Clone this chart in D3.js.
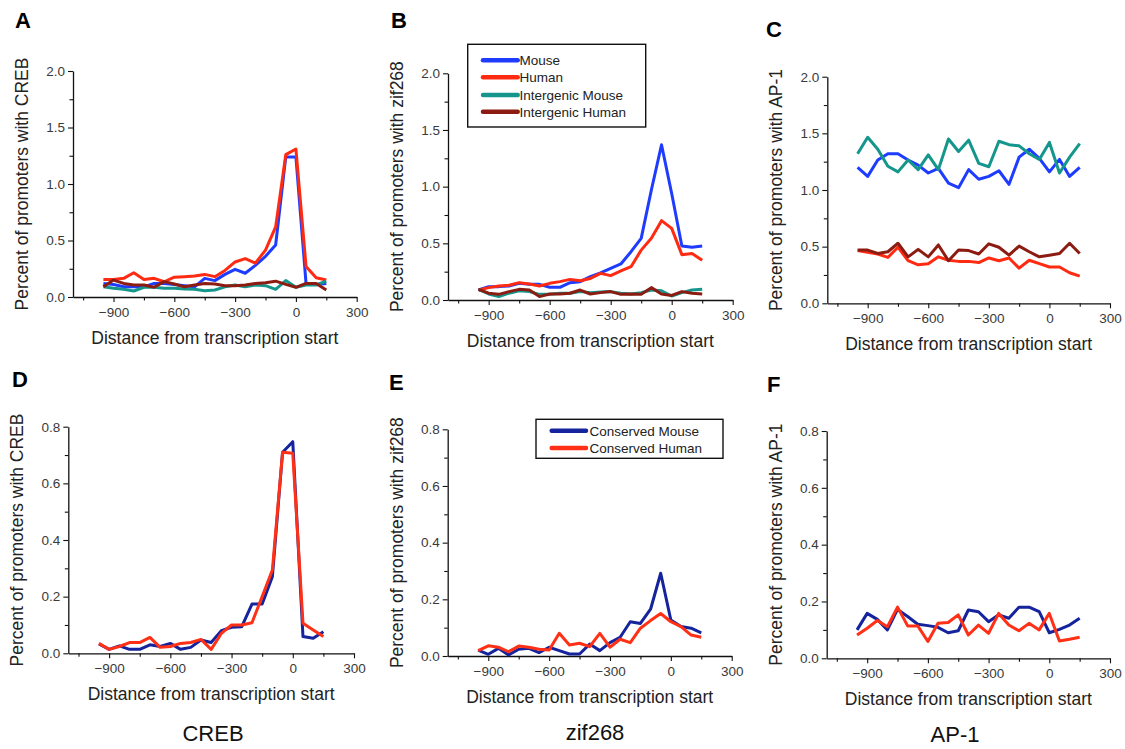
<!DOCTYPE html>
<html>
<head>
<meta charset="utf-8">
<script src="https://cdn.jsdelivr.net/npm/d3@7"></script>
<style>
  html, body { margin: 0; padding: 0; background: #fff; }
  svg { display: block; font-family: "Liberation Sans", Arial, sans-serif; }
</style>
</head>
<body>
<svg id="chart" width="1125" height="749"></svg>
<script>
// ---- Data ----
const positions = [-950,-900,-850,-800,-750,-700,-650,-600,-550,-500,-450,-400,-350,-300,-250,-200,-150,-100,-50,0,50,100,150];

const xTicksMajor = [-900, -600, -300, 0, 300];
const xTicksMinor = [-1050, -750, -450, -150, 150];
const yTicksTopMajor = [0, 0.5, 1.0, 1.5, 2.0];
const yTicksTopMinor = [0.25, 0.75, 1.25, 1.75];
const yTicksBotMajor = [0, 0.2, 0.4, 0.6, 0.8];
const yTicksBotMinor = [0.1, 0.3, 0.5, 0.7];

const seriesNamesTop = ["Mouse", "Human", "Intergenic Mouse", "Intergenic Human"];
const seriesNamesBot = ["Conserved Mouse", "Conserved Human"];
const factorNames = ["CREB", "zif268", "AP-1"];

// Panel A: CREB
const crebMouse    = [0.12,0.11,0.09,0.09,0.09,0.12,0.12,0.11,0.10,0.09,0.165,0.145,0.20,0.245,0.21,0.28,0.36,0.46,1.24,1.24,0.12,0.11,0.12];
const crebHuman    = [0.155,0.155,0.165,0.215,0.155,0.165,0.135,0.175,0.18,0.185,0.20,0.18,0.235,0.31,0.34,0.30,0.415,0.62,1.26,1.31,0.27,0.17,0.15];
const crebIntMouse = [0.09,0.077,0.068,0.053,0.086,0.086,0.077,0.077,0.07,0.068,0.056,0.062,0.09,0.106,0.09,0.106,0.10,0.068,0.145,0.086,0.106,0.106,0.14];
const crebIntHuman = [0.09,0.15,0.12,0.106,0.106,0.086,0.136,0.115,0.09,0.106,0.12,0.115,0.10,0.10,0.106,0.12,0.127,0.14,0.112,0.086,0.12,0.12,0.062];

// Panel B: zif268
const zifMouse    = [0.088,0.118,0.118,0.124,0.147,0.138,0.138,0.112,0.112,0.153,0.162,0.206,0.24,0.28,0.318,0.426,0.544,0.97,1.37,0.94,0.476,0.465,0.476];
const zifHuman    = [0.088,0.109,0.124,0.13,0.153,0.141,0.124,0.147,0.162,0.182,0.17,0.19,0.235,0.215,0.256,0.294,0.44,0.544,0.70,0.632,0.40,0.41,0.35];
const zifIntMouse = [0.094,0.053,0.03,0.06,0.082,0.074,0.05,0.05,0.06,0.06,0.074,0.065,0.07,0.074,0.06,0.053,0.065,0.088,0.082,0.035,0.065,0.088,0.094];
const zifIntHuman = [0.094,0.06,0.05,0.074,0.094,0.088,0.03,0.053,0.053,0.06,0.088,0.053,0.065,0.074,0.05,0.053,0.05,0.109,0.053,0.04,0.074,0.06,0.053];

// Panel C: AP-1
const ap1Mouse    = [1.2,1.12,1.265,1.32,1.32,1.265,1.22,1.15,1.19,1.06,1.02,1.18,1.095,1.12,1.17,1.05,1.29,1.36,1.28,1.16,1.27,1.12,1.2];
const ap1Human    = [0.465,0.45,0.435,0.405,0.495,0.376,0.34,0.35,0.41,0.38,0.37,0.37,0.36,0.40,0.376,0.40,0.31,0.38,0.35,0.32,0.32,0.27,0.24];
const ap1IntMouse = [1.32,1.465,1.36,1.21,1.16,1.265,1.18,1.31,1.18,1.45,1.34,1.44,1.235,1.205,1.43,1.40,1.39,1.32,1.27,1.42,1.15,1.29,1.41];
const ap1IntHuman = [0.47,0.47,0.44,0.455,0.53,0.41,0.476,0.41,0.515,0.376,0.47,0.465,0.435,0.525,0.495,0.425,0.505,0.455,0.41,0.425,0.44,0.53,0.44];

// Panel D: CREB conserved
const crebConsMouse = [0.033,0.014,0.026,0.014,0.014,0.03,0.024,0.035,0.014,0.021,0.047,0.038,0.08,0.092,0.094,0.174,0.174,0.27,0.71,0.747,0.059,0.053,0.076];
const crebConsHuman = [0.035,0.014,0.024,0.038,0.038,0.056,0.021,0.024,0.035,0.038,0.049,0.014,0.07,0.10,0.10,0.108,0.20,0.294,0.71,0.706,0.106,0.082,0.059];

// Panel E: zif268 conserved
const zifConsMouse = [0.021,0.006,0.027,0.004,0.024,0.027,0.012,0.031,0.019,0.007,0.007,0.042,0.019,0.047,0.066,0.121,0.115,0.165,0.292,0.127,0.104,0.098,0.082];
const zifConsHuman = [0.019,0.036,0.031,0.015,0.035,0.031,0.024,0.021,0.08,0.039,0.045,0.033,0.08,0.031,0.059,0.047,0.098,0.125,0.15,0.121,0.104,0.074,0.066];

// Panel F: AP-1 conserved
const ap1ConsMouse = [0.10,0.158,0.137,0.10,0.172,0.147,0.12,0.115,0.109,0.09,0.097,0.17,0.164,0.129,0.153,0.141,0.18,0.18,0.164,0.09,0.102,0.117,0.141];
const ap1ConsHuman = [0.082,0.106,0.133,0.111,0.18,0.114,0.114,0.059,0.123,0.126,0.153,0.082,0.117,0.088,0.158,0.117,0.097,0.123,0.10,0.158,0.061,0.067,0.074];

// ---- Styles ----
const colTop = ["#1e3cff", "#ff2a12", "#14968c", "#8c1c12"];
const colBot = ["#15239c", "#ff3016"];

const panels = [
  { letter: "A", lx: 15, ly: 28, x0: 73,    x1: 356.7, y0: 71,    y1: 297,   ymax: 2.0, top: true,
    ylab: "Percent of promoters with CREB",   series: [crebMouse, crebHuman, crebIntMouse, crebIntHuman] },
  { letter: "B", lx: 391, ly: 28, x0: 448,  x1: 732.7, y0: 73.3,  y1: 300,   ymax: 2.0, top: true,
    ylab: "Percent of promoters with zif268", series: [zifMouse, zifHuman, zifIntMouse, zifIntHuman],
    legend: { x0: 467.7, y0: 44.3, x1: 645.7, y1: 127, lineX0: 483, lineX1: 517.7, textX: 519.5, rows: [60.3, 77.3, 95, 111.7], names: seriesNamesTop, colors: colTop } },
  { letter: "C", lx: 766, ly: 37, x0: 827.3, x1: 1110, y0: 76.7, y1: 303.3, ymax: 2.0, top: true,
    ylab: "Percent of promoters with AP-1",   series: [ap1Mouse, ap1Human, ap1IntMouse, ap1IntHuman] },
  { letter: "D", lx: 12, ly: 387, x0: 68.3, x1: 354,   y0: 426.7, y1: 653.3, ymax: 0.8, top: false,
    ylab: "Percent of promoters with CREB",   series: [crebConsMouse, crebConsHuman], title: factorNames[0], tx: 213, ty: 741 },
  { letter: "E", lx: 389, ly: 390, x0: 447.7, x1: 731.7, y0: 429.3, y1: 656, ymax: 0.8, top: false,
    ylab: "Percent of promoters with zif268", series: [zifConsMouse, zifConsHuman], title: factorNames[1], tx: 595, ty: 740,
    legend: { x0: 536, y0: 419.3, x1: 723, y1: 458.3, lineX0: 551.7, lineX1: 586, textX: 589.5, rows: [430.7, 448], names: seriesNamesBot, colors: colBot } },
  { letter: "F", lx: 767, ly: 392, x0: 826.7, x1: 1110, y0: 431, y1: 658.3, ymax: 0.8, top: false,
    ylab: "Percent of promoters with AP-1",   series: [ap1ConsMouse, ap1ConsHuman], title: factorNames[2], tx: 955, ty: 742 }
];

const svg = d3.select("#chart");
svg.append("rect").attr("width", 1125).attr("height", 749).attr("fill", "#fff");

const fmt = d3.format(".1f");

panels.forEach(p => {
  const g = svg.append("g");
  const x = d3.scaleLinear().domain([-1100, 300]).range([p.x0, p.x1]);
  const y = d3.scaleLinear().domain([0, p.ymax]).range([p.y1, p.y0]);
  const colors = p.top ? colTop : colBot;

  // axes: minor ticks
  g.append("g").attr("transform", `translate(0,${p.y1})`)
    .call(d3.axisBottom(x).tickValues(xTicksMinor).tickSize(3.5).tickSizeOuter(0).tickFormat(""))
    .call(a => a.select(".domain").remove());
  g.append("g").attr("transform", `translate(${p.x0},0)`)
    .call(d3.axisLeft(y).tickValues(p.top ? yTicksTopMinor : yTicksBotMinor).tickSize(3.5).tickSizeOuter(0).tickFormat(""))
    .call(a => a.select(".domain").remove());

  // major
  g.append("g").attr("transform", `translate(0,${p.y1})`)
    .call(d3.axisBottom(x).tickValues(xTicksMajor).tickSize(5).tickSizeOuter(0).tickPadding(5).tickFormat(d3.format("d")));
  g.append("g").attr("transform", `translate(${p.x0},0)`)
    .call(d3.axisLeft(y).tickValues(p.top ? yTicksTopMajor : yTicksBotMajor).tickSize(5).tickSizeOuter(0).tickPadding(3).tickFormat(fmt));

  g.selectAll(".domain").attr("stroke", "#111").attr("stroke-width", 1.3);
  g.selectAll(".tick line").attr("stroke", "#111").attr("stroke-width", 1.1);
  g.selectAll(".tick text").attr("fill", "#3a3a3a").style("font-size", "13.5px")
    .style("font-family", "'Liberation Sans', Arial, sans-serif");

  // lines
  const line = d3.line().x((d, i) => x(positions[i])).y(d => y(d));
  p.series.forEach((s, i) => {
    g.append("path").datum(s)
      .attr("fill", "none")
      .attr("stroke", colors[i])
      .attr("stroke-width", 3)
      .attr("stroke-linejoin", "round")
      .attr("d", line);
  });

  // axis titles
  g.append("text")
    .attr("x", (p.x0 + p.x1) / 2).attr("y", p.y1 + 46.5)
    .attr("text-anchor", "middle")
    .attr("fill", "#222").style("font-size", "17.5px")
    .text("Distance from transcription start");
  g.append("text")
    .attr("transform", `translate(${p.x0 - 45},${(p.y0 + p.y1) / 2}) rotate(-90)`)
    .attr("text-anchor", "middle")
    .attr("fill", "#222").style("font-size", "17.5px")
    .text(p.ylab);

  // panel letter
  g.append("text").attr("x", p.lx).attr("y", p.ly)
    .attr("fill", "#000").style("font-size", "22px").style("font-weight", "bold")
    .text(p.letter);

  // factor title
  if (p.title) {
    g.append("text").attr("x", p.tx).attr("y", p.ty)
      .attr("text-anchor", "middle").attr("fill", "#111")
      .style("font-size", "22px").text(p.title);
  }

  // legend
  if (p.legend) {
    const L = p.legend;
    const lg = g.append("g");
    lg.append("rect").attr("x", L.x0).attr("y", L.y0)
      .attr("width", L.x1 - L.x0).attr("height", L.y1 - L.y0)
      .attr("fill", "#fff").attr("stroke", "#111").attr("stroke-width", 1.4);
    L.names.forEach((n, i) => {
      lg.append("line").attr("x1", L.lineX0).attr("x2", L.lineX1)
        .attr("y1", L.rows[i]).attr("y2", L.rows[i])
        .attr("stroke", L.colors[i]).attr("stroke-width", 4.5).attr("stroke-linecap", "round");
      lg.append("text").attr("x", L.textX).attr("y", L.rows[i]).attr("dy", "0.36em")
        .attr("fill", "#222").style("font-size", "13.5px").text(n);
    });
  }
});
</script>
</body>
</html>
